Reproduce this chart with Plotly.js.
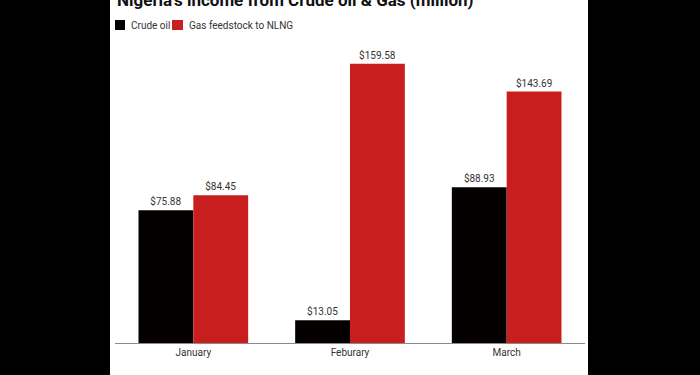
<!DOCTYPE html>
<html>
<head>
<meta charset="utf-8">
<script src="https://cdn.plot.ly/plotly-3.0.1.min.js"></script>
<style>
  html, body { margin: 0; padding: 0; background: #000; width: 700px; height: 375px; overflow: hidden; }
  #chart { position: absolute; left: 110px; top: 0; width: 478px; height: 375px; background: #fff; }
</style>
</head>
<body>
<div id="chart"></div>
<script>
const months = ["January", "Feburary", "March"];
const crudeOil = [75.88, 13.05, 88.93];
const gasFeedstock = [84.45, 159.58, 143.69];
const seriesNames = ["Crude oil", "Gas feedstock to NLNG"];
const seriesColors = ["#050000", "#c91e1e"];
const titleText = "Nigeria's income from Crude oil & Gas (million)";

const font = "Roboto, 'Liberation Sans', Arial, sans-serif";

function barTrace(name, values, color) {
  return {
    type: "bar",
    name: name,
    x: months,
    y: values,
    marker: { color: color, line: { width: 0 } },
    text: values.map(v => "$" + v.toFixed(2)),
    textposition: "outside",
    textfont: { family: font, size: 10, color: "#333" },
    cliponaxis: false,
    hoverinfo: "skip"
  };
}

const data = [
  barTrace(seriesNames[0], crudeOil, seriesColors[0]),
  barTrace(seriesNames[1], gasFeedstock, seriesColors[1])
];

// paper coordinates helpers (plot area: 470px wide, 280px tall)
const PW = 470, PH = 280;
const px = p => p / PW;
const py = p => p / PH;

const layout = {
  width: 478,
  height: 375,
  margin: { l: 5, r: 3, t: 63, b: 32, pad: 0 },
  paper_bgcolor: "#fff",
  plot_bgcolor: "#fff",
  showlegend: false,
  barmode: "group",
  bargap: 0.3,
  bargroupgap: 0,
  font: { family: font, size: 10, color: "#333" },
  xaxis: {
    showline: true,
    linecolor: "#8a8a8a",
    linewidth: 1,
    ticks: "",
    showgrid: false,
    zeroline: false,
    tickfont: { family: font, size: 10, color: "#333" },
    fixedrange: true
  },
  yaxis: {
    range: [0, 160],
    visible: false,
    showgrid: false,
    zeroline: false,
    fixedrange: true
  },
  shapes: [
    { type: "rect", xref: "paper", yref: "paper", x0: 0, x1: px(10), y0: 1 + py(33), y1: 1 + py(43), fillcolor: seriesColors[0], line: { width: 0 } },
    { type: "rect", xref: "paper", yref: "paper", x0: px(57), x1: px(68), y0: 1 + py(33), y1: 1 + py(43), fillcolor: seriesColors[1], line: { width: 0 } }
  ],
  annotations: [
    { xref: "paper", yref: "paper", x: 0, y: 1 + py(63), xanchor: "left", yanchor: "middle", showarrow: false,
      text: "<b>" + titleText + "</b>", font: { family: font, size: 17, color: "#111" } },
    { xref: "paper", yref: "paper", x: px(14), y: 1 + py(38), xanchor: "left", yanchor: "middle", showarrow: false,
      text: seriesNames[0], font: { family: font, size: 10, color: "#333" } },
    { xref: "paper", yref: "paper", x: px(72), y: 1 + py(38), xanchor: "left", yanchor: "middle", showarrow: false,
      text: seriesNames[1], font: { family: font, size: 10, color: "#333" } }
  ]
};

Plotly.newPlot("chart", data, layout, { displayModeBar: false, staticPlot: true });
</script>
</body>
</html>
